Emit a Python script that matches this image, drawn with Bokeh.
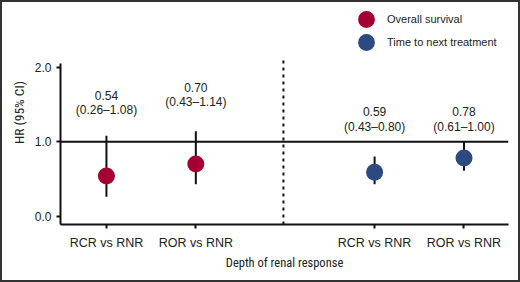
from bokeh.plotting import figure
from bokeh.models import (Range1d, FixedTicker, NumeralTickFormatter, Span, Legend, LegendItem,
                          ColumnDataSource)
from bokeh.core.properties import value
from bokeh.embed import file_html
from bokeh.resources import INLINE

# ---------------- data ----------------
categories = ["RCR vs RNR", "ROR vs RNR", "RCR vs RNR", "ROR vs RNR"]
positions = [1, 2, 4, 5]
hr = [0.54, 0.70, 0.59, 0.78]
ci_low = [0.26, 0.43, 0.43, 0.61]
ci_high = [1.08, 1.14, 0.80, 1.00]
series = ["Overall survival", "Overall survival", "Time to next treatment", "Time to next treatment"]
series_names = ["Overall survival", "Time to next treatment"]
y_ticks = [0.0, 1.0, 2.0]

# ---------------- layout / style ----------------
colors = {"Overall survival": "#A50034", "Time to next treatment": "#2C4A7F"}
label_y = [1.42, 1.53, 1.20, 1.20]   # y of the CI text line (HR line sits above it)
line_gap = 0.20
sep_x = 2.98
y_lo, y_hi = -0.111, 2.895
axis_top = 2.046
sep_top = 2.117
legend_locs = [(285, 184), (285, 161)]

FONT = "Liberation Sans"
TITLE_FONT = "Roboto Condensed"

p = figure(width=520, height=282, output_backend="svg", toolbar_location=None,
           x_range=Range1d(0.486, 5.498), y_range=Range1d(y_lo, y_hi),
           min_border_left=60, min_border_right=12, min_border_top=0, min_border_bottom=58)
p.outline_line_color = None
p.xgrid.visible = False
p.ygrid.visible = False
p.background_fill_color = None
p.border_fill_color = None
p.styles = {"box-shadow": "inset 0 0 0 2px #333333",
            "outline": "2px solid #333333", "outline-offset": "-2px",
            "background-color": "white"}

# axes
p.xaxis.ticker = FixedTicker(ticks=positions)
p.xaxis.major_label_overrides = {pos: cat for pos, cat in zip(positions, categories)}
p.yaxis.ticker = FixedTicker(ticks=y_ticks)
p.yaxis.formatter = NumeralTickFormatter(format="0.0")
p.yaxis.bounds = (y_lo, axis_top)
for ax in (p.xaxis, p.yaxis):
    ax.axis_line_width = 2
    ax.axis_line_color = "#111111"
    ax.major_tick_line_width = 2
    ax.major_tick_line_color = "#111111"
    ax.major_tick_out = 4
    ax.major_tick_in = 0
    ax.minor_tick_line_color = None
    ax.major_label_text_font = FONT
    ax.major_label_text_color = "#222222"
    ax.axis_label_text_font = TITLE_FONT
    ax.axis_label_text_font_style = "normal"
    ax.axis_label_text_color = "#222222"
p.xaxis.axis_label_text_font_size = "12.5px"
p.yaxis.axis_label_text_font_size = "13.5px"
p.xaxis.major_label_text_font_size = "12.5px"
p.yaxis.major_label_text_font_size = "12px"
p.xaxis.major_label_standoff = 7
p.yaxis.major_label_standoff = 5
p.xaxis.axis_label = "Depth of renal response"
p.yaxis.axis_label = "HR (95% CI)"
p.xaxis.axis_label_standoff = 2
p.yaxis.axis_label_standoff = 5

# reference line and separator
p.add_layout(Span(location=1.0, dimension="width", line_color="#111111", line_width=2))
p.segment(x0=[sep_x], y0=[y_lo], x1=[sep_x], y1=[sep_top], line_color="#111111",
          line_width=2, line_dash="3 4")

# error bars and points
renderers = {}
for name in series_names:
    idx = [i for i, s in enumerate(series) if s == name]
    src = ColumnDataSource(dict(
        x=[positions[i] for i in idx], hr=[hr[i] for i in idx],
        lo=[ci_low[i] for i in idx], hi=[ci_high[i] for i in idx]))
    p.segment(x0="x", y0="lo", x1="x", y1="hi", source=src, line_color="#111111", line_width=2)
    renderers[name] = p.scatter(x="x", y="hr", source=src, size=17, marker="circle",
                                fill_color=colors[name], line_color=None)

# annotations
hr_text = [f"{v:.2f}" for v in hr]
ci_text = [f"({lo:.2f}\u2013{hi:.2f})" for lo, hi in zip(ci_low, ci_high)]
ann = ColumnDataSource(dict(x=positions, y1=[y + line_gap for y in label_y], y2=label_y,
                            t1=hr_text, t2=ci_text))
for ycol, tcol in (("y1", "t1"), ("y2", "t2")):
    p.text(x="x", y=ycol, text=tcol, source=ann, text_font=value(FONT),
           text_font_size="12px", text_align="center", text_baseline="middle",
           text_color="#222222")

# legend: one small legend per series so the entries sit close together
for name, loc in zip(series_names, legend_locs):
    lg = Legend(items=[LegendItem(label=name, renderers=[renderers[name]])],
                location=loc, orientation="vertical",
                glyph_width=42, glyph_height=42, spacing=0, label_standoff=-5,
                padding=0, margin=0, border_line_color=None, background_fill_alpha=0,
                label_text_font=FONT, label_text_font_size="11px", label_text_color="#222222")
    p.add_layout(lg, "center")

open("out.html", "w").write(file_html(p, INLINE))
